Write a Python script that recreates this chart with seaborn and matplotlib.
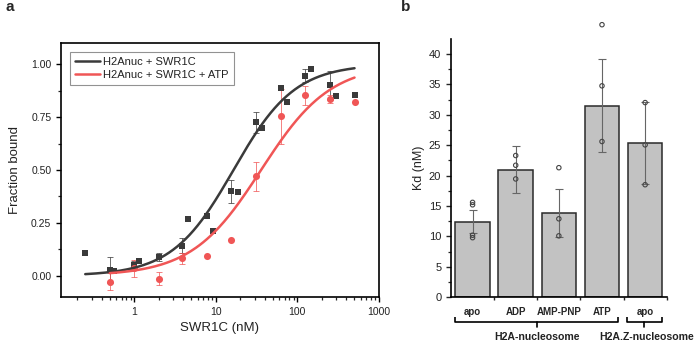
import numpy as np
import pandas as pd
import matplotlib
matplotlib.use("Agg")
import matplotlib.pyplot as plt
import matplotlib.transforms as mtransforms
from matplotlib.ticker import LogLocator, MultipleLocator, NullFormatter, FixedLocator, FuncFormatter
import seaborn as sns

# ---------------- data: panel a ----------------
conc_apo = [0.25, 0.5, 0.57, 1.0, 1.14, 2.0, 3.9, 4.6, 7.8, 9.2, 15.6, 18.5,
            31.4, 36.8, 62.5, 74, 124, 149, 252, 296, 505]
frac_apo = [0.11, 0.028, 0.025, 0.049, 0.071, 0.088, 0.142, 0.267, 0.282, 0.212, 0.40, 0.398,
            0.726, 0.698, 0.888, 0.819, 0.945, 0.978, 0.90, 0.848, 0.855]
err_apo = [0, 0.06, 0, 0.02, 0, 0.02, 0.035, 0, 0, 0, 0.055, 0,
           0.05, 0, 0, 0, 0.03, 0, 0.07, 0, 0]

conc_atp = [0.5, 1.0, 2.0, 3.9, 7.8, 15.6, 31.4, 62.5, 124, 252, 505]
frac_atp = [-0.027, 0.036, -0.014, 0.082, 0.094, 0.168, 0.47, 0.755, 0.854, 0.835, 0.822]
err_atp = [0.04, 0.04, 0.03, 0.025, 0, 0, 0.07, 0.13, 0.045, 0.02, 0]

# Hill fit parameters (Kd in nM, Hill coefficient) and fitted range
fit_kd = {"apo": 16.5, "atp": 36.0}
fit_n = {"apo": 1.15, "atp": 1.02}
fit_range = {"apo": (0.25, 505), "atp": (0.5, 505)}

legend_labels = ["H2Anuc + SWR1C", "H2Anuc + SWR1C + ATP"]

# ---------------- data: panel b ----------------
conditions = ["apo", "ADP", "AMP-PNP", "ATP", "apo"]
cond_ids = ["apo_H2A", "ADP", "AMP-PNP", "ATP", "apo_H2AZ"]
kd_mean = [12.45, 21.0, 13.85, 31.5, 25.3]
kd_sd = [1.9, 3.8, 3.9, 7.6, 6.75]
kd_points = {
    "apo_H2A": [15.6, 15.2, 10.2, 9.8],
    "ADP": [23.3, 21.7, 19.45],
    "AMP-PNP": [21.3, 12.9, 10.1],
    "ATP": [44.8, 34.75, 25.6],
    "apo_H2AZ": [32.0, 25.05, 18.5],
}
groups = [("H2A-nucleosome", 0, 3), ("H2A.Z-nucleosome", 4, 4)]

# ---------------- style ----------------
sns.set_style("ticks")
plt.rcParams["font.family"] = ["Liberation Sans", "DejaVu Sans"]
plt.rcParams["axes.linewidth"] = 1.1

BLACK = "#3a3a3a"
RED = "#f05656"

fig = plt.figure(figsize=(6.99, 3.41), dpi=100)
axa = fig.add_axes([61 / 699, 44 / 341, 317.7 / 699, 254 / 341])
axb = fig.add_axes([451 / 699, 43.7 / 341, 215.7 / 699, 258 / 341])

# ---------------- panel a ----------------
df_apo = pd.DataFrame({"conc": conc_apo, "frac": frac_apo, "err": err_apo})
df_atp = pd.DataFrame({"conc": conc_atp, "frac": frac_atp, "err": err_atp})


def hill_curve(key):
    lo, hi = fit_range[key]
    xs = np.logspace(np.log10(lo), np.log10(hi), 200)
    r = (xs / fit_kd[key]) ** fit_n[key]
    return pd.DataFrame({"conc": xs, "frac": r / (1 + r)})


for df, col, mk, size in [(df_apo, BLACK, "s", 20), (df_atp, RED, "o", 26)]:
    sub = df[df["err"] > 0]
    axa.errorbar(sub["conc"], sub["frac"], yerr=sub["err"], fmt="none",
                 ecolor=col, alpha=0.75, elinewidth=0.7, capsize=2, capthick=0.7, zorder=2)
    sns.scatterplot(data=df, x="conc", y="frac", marker=mk, s=size, color=col,
                    edgecolor=col, linewidth=0, ax=axa, zorder=3, legend=False)

ca = hill_curve("apo")
ct = hill_curve("atp")
sns.lineplot(data=ca, x="conc", y="frac", color=BLACK, lw=1.8, ax=axa,
             label=legend_labels[0], zorder=4)
sns.lineplot(data=ct, x="conc", y="frac", color=RED, lw=1.8, ax=axa,
             label=legend_labels[1], zorder=4)

axa.set_xscale("log")
axa.set_xlim(0.126, 1000)
axa.set_ylim(-0.1, 1.1)
axa.xaxis.set_major_locator(FixedLocator([1, 10, 100, 1000]))
axa.set_xticklabels(["1", "10", "100", "1000"])
axa.xaxis.set_minor_locator(LogLocator(base=10, subs=np.arange(2, 10)))
axa.xaxis.set_minor_formatter(NullFormatter())
axa.yaxis.set_major_locator(MultipleLocator(0.25))
axa.yaxis.set_minor_locator(MultipleLocator(0.125))
axa.yaxis.set_major_formatter(FuncFormatter(lambda v, p: f"{v:.2f}"))
axa.tick_params(axis="both", which="major", direction="out", length=3.5, width=1, labelsize=7.5,
                colors="black", labelcolor="#222222")
axa.tick_params(axis="both", which="minor", direction="out", length=2, width=0.9)
for s in axa.spines.values():
    s.set_linewidth(1.2)
    s.set_color("black")
axa.set_xlabel("SWR1C (nM)", fontsize=9.5, color="#222222", labelpad=4)
axa.set_ylabel("Fraction bound", fontsize=9.5, color="#222222", labelpad=7)
leg = axa.legend(loc="upper left", bbox_to_anchor=(0.027, 0.966), borderaxespad=0,
                 fontsize=8, frameon=True, fancybox=False, edgecolor="#777777",
                 handlelength=2.3, handletextpad=0.3, borderpad=0.45, labelspacing=0.3)
leg.get_frame().set_linewidth(0.8)
for t in leg.get_texts():
    t.set_color("#222222")

# ---------------- panel b ----------------
df_b = pd.DataFrame({"cond": cond_ids, "kd": kd_mean, "sd": kd_sd})
sns.barplot(data=df_b, x="cond", y="kd", order=cond_ids, color="#c2c2c2", saturation=1,
            edgecolor="#2a2a2a", linewidth=1.1, width=0.8, errorbar=None, ax=axb, zorder=2)
pos = np.arange(len(cond_ids))
axb.errorbar(pos, kd_mean, yerr=kd_sd, fmt="none", ecolor="#666666", elinewidth=0.8,
             capsize=3, capthick=0.8, zorder=3)

pts = pd.DataFrame([(cond_ids.index(k), v) for k, vs in kd_points.items() for v in vs],
                   columns=["pos", "kd"])
sns.scatterplot(data=pts, x="pos", y="kd", marker="o", s=10, facecolor="none",
                edgecolor="#444444", linewidth=0.8, ax=axb, zorder=4, clip_on=False,
                legend=False)

axb.set_xlim(-0.5, 4.5)
axb.set_ylim(0, 42.4)
axb.yaxis.set_major_locator(MultipleLocator(5))
axb.yaxis.set_minor_locator(MultipleLocator(2.5))
axb.set_xticks(pos)
axb.set_xticklabels(conditions, fontsize=7, fontweight="bold")
axb.set_xticks(list(pos + 0.5), minor=True)
axb.tick_params(axis="x", which="major", length=0, pad=7)
axb.tick_params(axis="x", which="minor", direction="out", length=2.5, width=1)
axb.tick_params(axis="y", which="major", direction="out", length=3.5, width=1, labelsize=8,
                labelcolor="#222222")
axb.tick_params(axis="y", which="minor", direction="out", length=2, width=0.9)
sns.despine(ax=axb)
for s in ["left", "bottom"]:
    axb.spines[s].set_linewidth(1.2)
    axb.spines[s].set_color("black")
axb.set_xlabel("")
axb.set_ylabel("Kd (nM)", fontsize=9, color="#222222", labelpad=3)

trans = mtransforms.blended_transform_factory(axb.transData, axb.transAxes)
y_line, y_end, y_mid = -0.0946, -0.0775, -0.114
for name, i0, i1 in groups:
    x0, x1 = i0 - 0.41, i1 + 0.38
    xc = (x0 + x1) / 2
    axb.plot([x0, x0, x1, x1], [y_end, y_line, y_line, y_end], color="black", lw=1.2,
             transform=trans, clip_on=False, solid_capstyle="butt")
    axb.plot([xc, xc], [y_line, y_mid], color="black", lw=1.2, transform=trans, clip_on=False)
    axb.text(xc + (0.06 if i0 == i1 else 0), -0.155, name, transform=trans, ha="center",
             va="center", fontsize=7.6, fontweight="bold", color="#222222")

# panel letters
fig.text(5 / 699, 1 - 7 / 341, "a", fontsize=11, fontweight="bold", va="center", ha="left")
fig.text(401 / 699, 1 - 7 / 341, "b", fontsize=11, fontweight="bold", va="center", ha="left")

fig.savefig("out.png", dpi=100)
